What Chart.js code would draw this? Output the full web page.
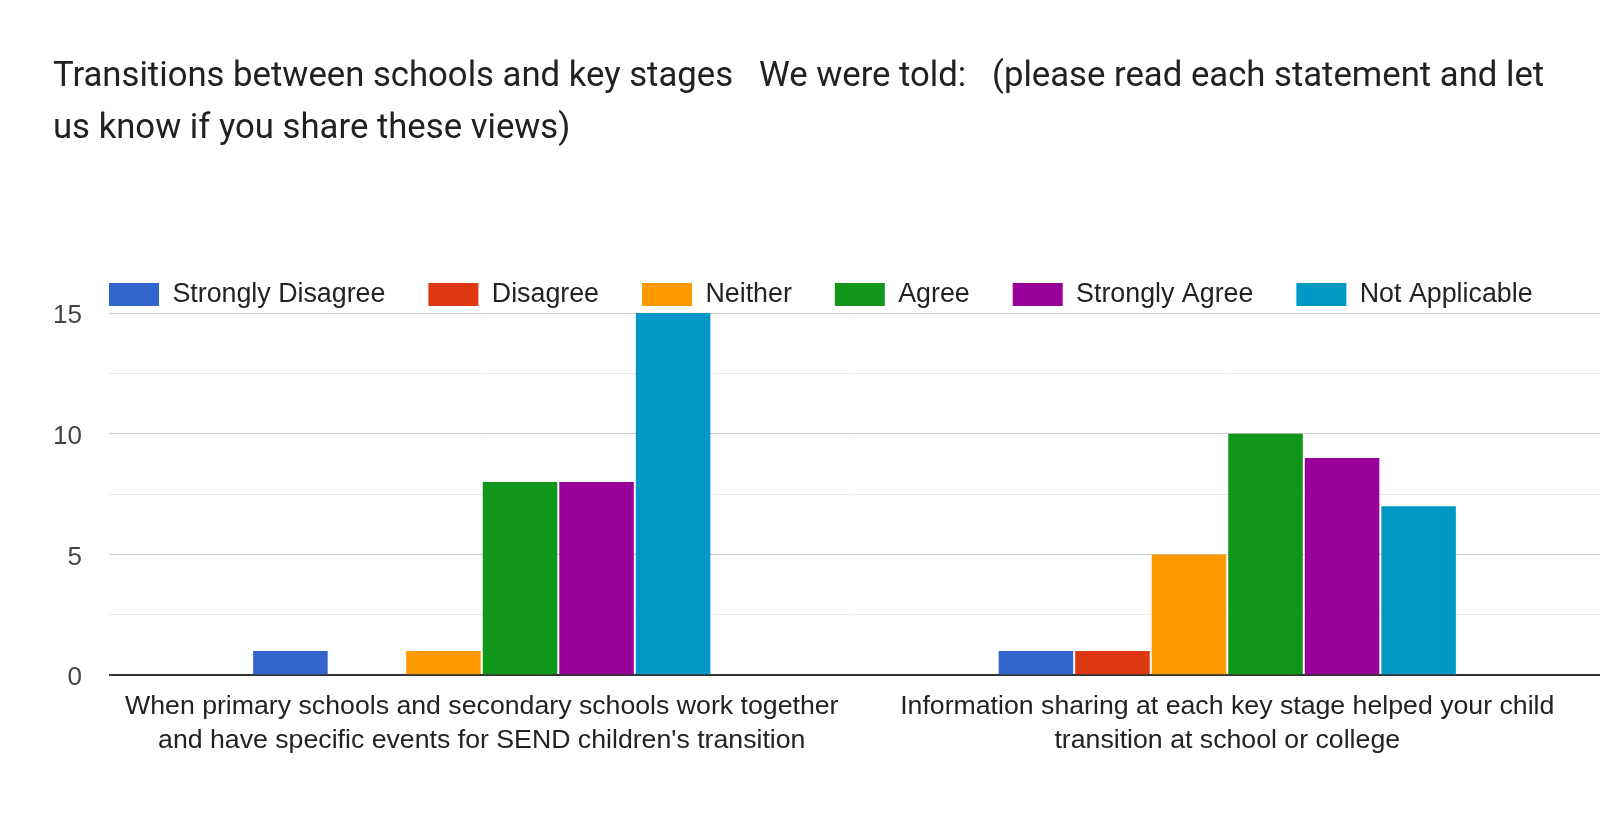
<!DOCTYPE html>
<html>
<head>
<meta charset="utf-8">
<script src="https://cdn.jsdelivr.net/npm/chart.js@4/dist/chart.umd.min.js"></script>
<style>
	html, body { margin: 0; padding: 0; background: #fff; }
	canvas { display: block; }
</style>
</head>
<body>
<canvas id="chart" width="1600" height="835"></canvas>
<script>
const titleLines = [
	"Transitions between schools and key stages   We were told:   (please read each statement and let",
	"us know if you share these views)",
];
const categories = [
	["When primary schools and secondary schools work together", "and have specific events for SEND children's transition"],
	["Information sharing at each key stage helped your child", "transition at school or college"],
];
const seriesNames = ["Strongly Disagree", "Disagree", "Neither", "Agree", "Strongly Agree", "Not Applicable"];
const seriesColors = ["#3366cc", "#dc3912", "#ff9900", "#109618", "#990099", "#0099c6"];
const stronglyDisagree = [1, 1];
const disagree = [0, 1];
const neither = [1, 5];
const agree = [8, 10];
const stronglyAgree = [8, 9];
const notApplicable = [15, 7];
const yTickLabels = [0, 5, 10, 15];

const seriesValues = [stronglyDisagree, disagree, neither, agree, stronglyAgree, notApplicable];

// nudge legend so it lines up with the plot area like the google chart
const legendShift = {
	id: "legendShift",
	afterLayout(chart) {
		chart.legend.left = chart.chartArea.left - chart.legend.options.labels.padding;
	},
};

new Chart(document.getElementById("chart"), {
	type: "bar",
	data: {
		labels: categories,
		datasets: seriesNames.map((name, i) => ({
			label: name,
			data: seriesValues[i],
			backgroundColor: seriesColors[i],
			borderWidth: 0,
			categoryPercentage: 0.616,
			barPercentage: 0.974,
		})),
	},
	options: {
		responsive: false,
		animation: false,
		devicePixelRatio: 1,
		layout: { padding: { left: 53, right: 0, top: 0, bottom: 63 } },
		plugins: {
			title: {
				display: true,
				text: titleLines,
				align: "start",
				color: "#212121",
				font: { family: "Roboto", size: 34.7, weight: "normal", lineHeight: 1.5 },
				padding: { top: 51, bottom: 83 },
			},
			legend: {
				align: "start",
				maxHeight: 75,
				labels: {
					boxWidth: 50,
					boxHeight: 23,
					padding: 43,
					color: "#222",
					font: { family: "Liberation Sans, Arial", size: 26.8 },
				},
			},
			tooltip: { enabled: false },
		},
		scales: {
			x: {
				grid: { display: false, drawTicks: false },
				border: { display: false },
				ticks: {
					padding: 15,
					color: "#222",
					maxRotation: 0,
					autoSkip: false,
					font: { family: "Liberation Sans, Arial", size: 26.7, lineHeight: 1.25 },
				},
			},
			y: {
				min: 0,
				max: 15,
				border: { display: false },
				afterFit: (scale) => {
					scale.width = 56;
				},
				grid: {
					drawTicks: false,
					color: (ctx) => {
						const v = ctx.tick.value;
						if (v === 0) return "#333";
						return yTickLabels.includes(v) ? "#cccccc" : "#ebebeb";
					},
					lineWidth: (ctx) => (ctx.tick.value === 0 ? 2 : 1),
				},
				ticks: {
					stepSize: 2.5,
					padding: 27,
					labelOffset: 3,
					color: "#444",
					font: { family: "Liberation Sans, Arial", size: 26 },
					callback: (v) => (yTickLabels.includes(v) ? v : ""),
				},
			},
		},
	},
	plugins: [legendShift],
});
</script>
</body>
</html>
